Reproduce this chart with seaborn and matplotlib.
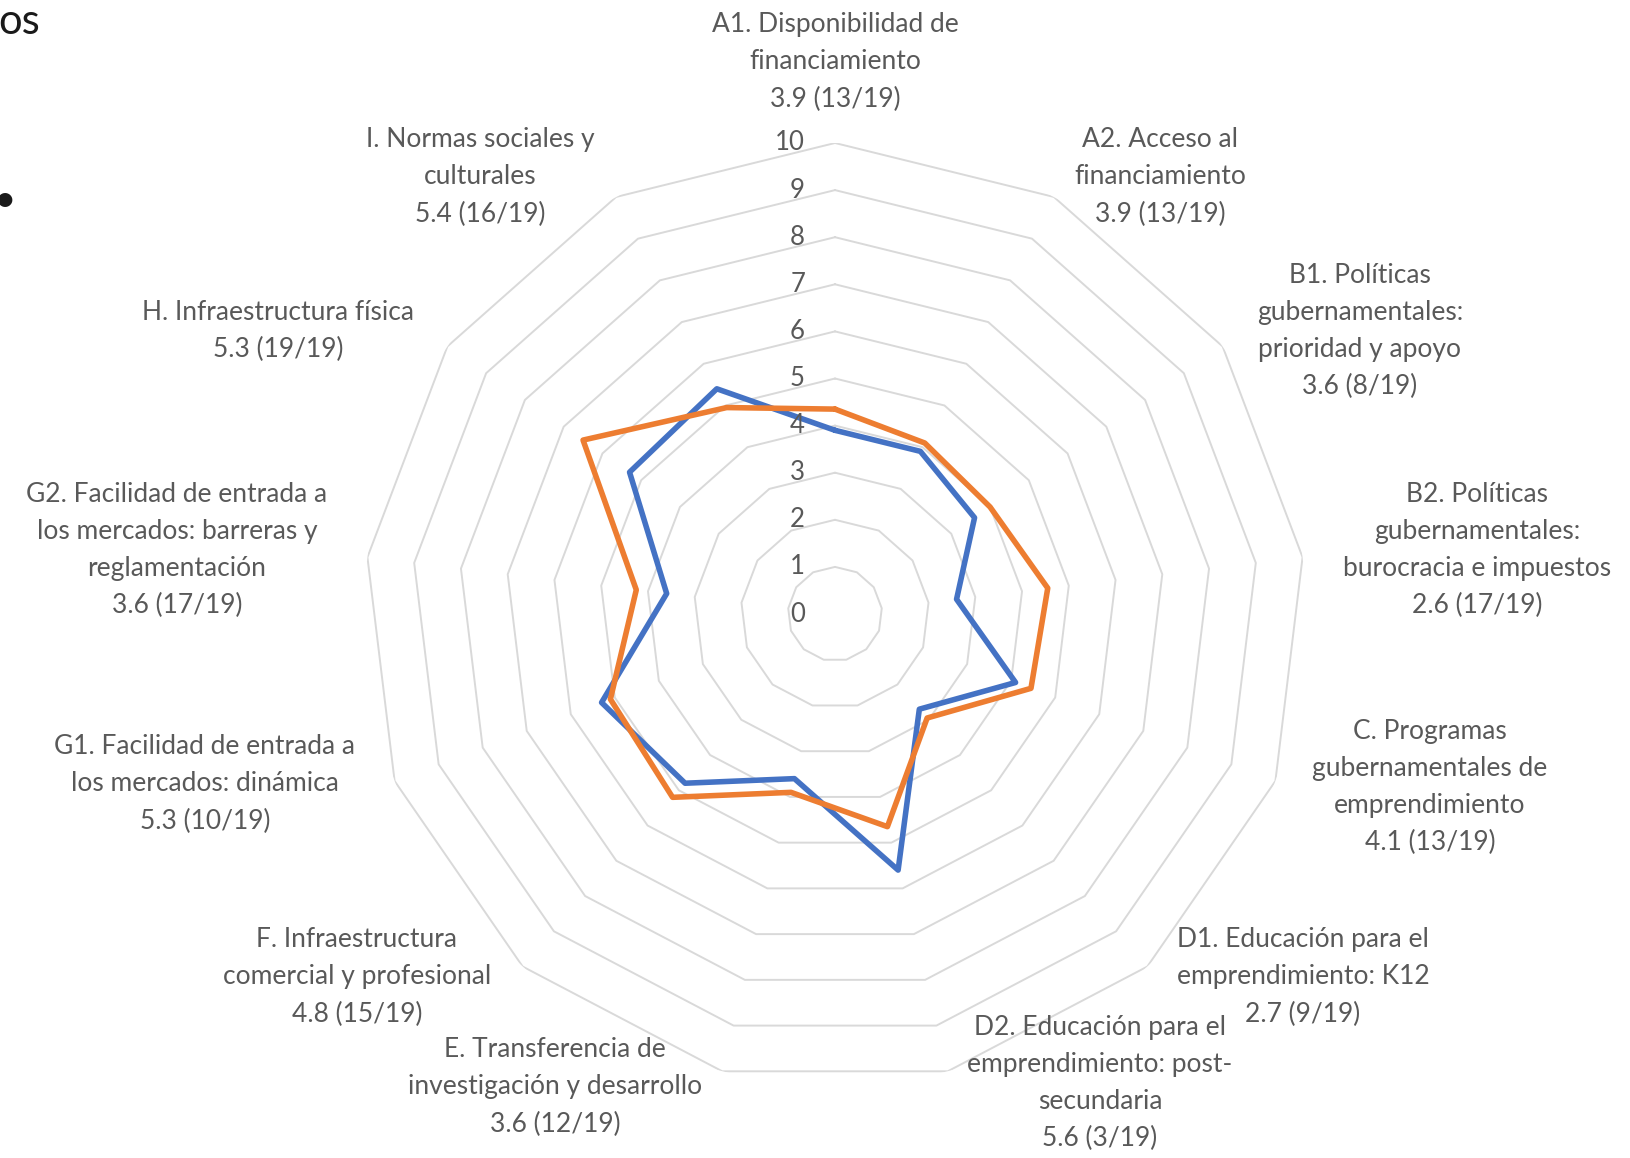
import numpy as np
import pandas as pd
import seaborn as sns
import matplotlib.pyplot as plt
import matplotlib.transforms as mtransforms

# categorias (en sentido horario desde arriba)
categorias = ["A1", "A2", "B1", "B2", "C", "D1", "D2", "E", "F", "G1", "G2", "H", "I"]
etiquetas = [
    "A1. Disponibilidad de\nfinanciamiento\n3.9 (13/19)",
    "A2. Acceso al\nfinanciamiento\n3.9 (13/19)",
    "B1. Políticas\ngubernamentales:\nprioridad y apoyo\n3.6 (8/19)",
    "B2. Políticas\ngubernamentales:\nburocracia e impuestos\n2.6 (17/19)",
    "C. Programas\ngubernamentales de\nemprendimiento\n4.1 (13/19)",
    "D1. Educación para el\nemprendimiento: K12\n2.7 (9/19)",
    "D2. Educación para el\nemprendimiento: post-\nsecundaria\n5.6 (3/19)",
    "E. Transferencia de\ninvestigación y desarrollo\n3.6 (12/19)",
    "F. Infraestructura\ncomercial y profesional\n4.8 (15/19)",
    "G1. Facilidad de entrada a\nlos mercados: dinámica\n5.3 (10/19)",
    "G2. Facilidad de entrada a\nlos mercados: barreras y\nreglamentación\n3.6 (17/19)",
    "H. Infraestructura física\n5.3 (19/19)",
    "I. Normas sociales y\nculturales\n5.4 (16/19)",
]
serie_azul = [3.9, 3.9, 3.6, 2.6, 4.1, 2.7, 5.6, 3.6, 4.8, 5.3, 3.6, 5.3, 5.4]
serie_naranja = [4.35, 4.1, 4.0, 4.55, 4.45, 2.95, 4.65, 3.9, 5.2, 5.1, 4.25, 6.5, 4.95]
escala = list(range(0, 11))

# posiciones de las etiquetas (pixeles de la figura, desde arriba)
pos_etiquetas = [(835, 62), (1160, 177), (1360, 331), (1477, 550), (1430, 787),
                 (1303, 977), (1100, 1083), (555, 1087), (357, 977), (205, 784),
                 (177, 550), (278, 331), (480, 177)]

sns.set_theme(style="white")
plt.rcParams['font.family'] = ['Lato', 'DejaVu Sans']

W, H = 1631, 1158
fig = plt.figure(figsize=(W / 100, H / 100), dpi=100)
cx, cy, R = 835, 614, 471
ax = fig.add_axes([(cx - R) / W, (H - cy - R) / H, 2 * R / W, 2 * R / H], projection='polar')
ax.set_theta_zero_location('N')
ax.set_theta_direction(-1)

n = len(categorias)
theta = np.linspace(0, 2 * np.pi, n, endpoint=False)
theta_c = np.append(theta, 2 * np.pi)

# anillos poligonales
for r in escala[1:]:
    ax.plot(theta_c, [r] * (n + 1), color='#d9d9d9', lw=1.4, zorder=1)

# datos
filas = []
for nombre, vals in [("Serie 1", serie_azul), ("Serie 2", serie_naranja)]:
    v = list(vals) + [vals[0]]
    for t, val in zip(theta_c, v):
        filas.append({"serie": nombre, "theta": t, "valor": val})
df = pd.DataFrame(filas)
sns.lineplot(data=df, x='theta', y='valor', hue='serie', sort=False, estimator=None,
             palette=['#4472C4', '#ED7D31'], linewidth=4.0, legend=False, ax=ax,
             zorder=3)
for ln in ax.lines[-2:]:
    ln.set_solid_joinstyle('round')

ax.set_ylim(0, 10)
ax.grid(False)
ax.set_xticks([])
ax.set_yticks([])
ax.spines['polar'].set_visible(False)
ax.set_xlabel('')
ax.set_ylabel('')
ax.patch.set_alpha(0)

# etiquetas del eje radial
off = mtransforms.offset_copy(ax.transData, fig=fig, x=-30, y=0, units='dots')
for r in escala:
    ax.text(0, r, str(r), transform=off, ha='right', va='center',
            fontsize=18.5, color='#595959')

# etiquetas de categorias
for txt, (x, y) in zip(etiquetas, pos_etiquetas):
    fig.text(x / W, 1 - y / H, txt, ha='center', va='center', fontsize=19,
             color='#595959', linespacing=1.6)

# restos de la diapositiva
fig.text(40 / W, 1 - 22 / H, "os", ha='right', va='center', fontsize=30, color='#1a1a1a')
fig.text(5 / W, 1 - 200 / H, "•", ha='center', va='center', fontsize=28, color='#1a1a1a')

fig.savefig('out.png', dpi=100, facecolor='white')
